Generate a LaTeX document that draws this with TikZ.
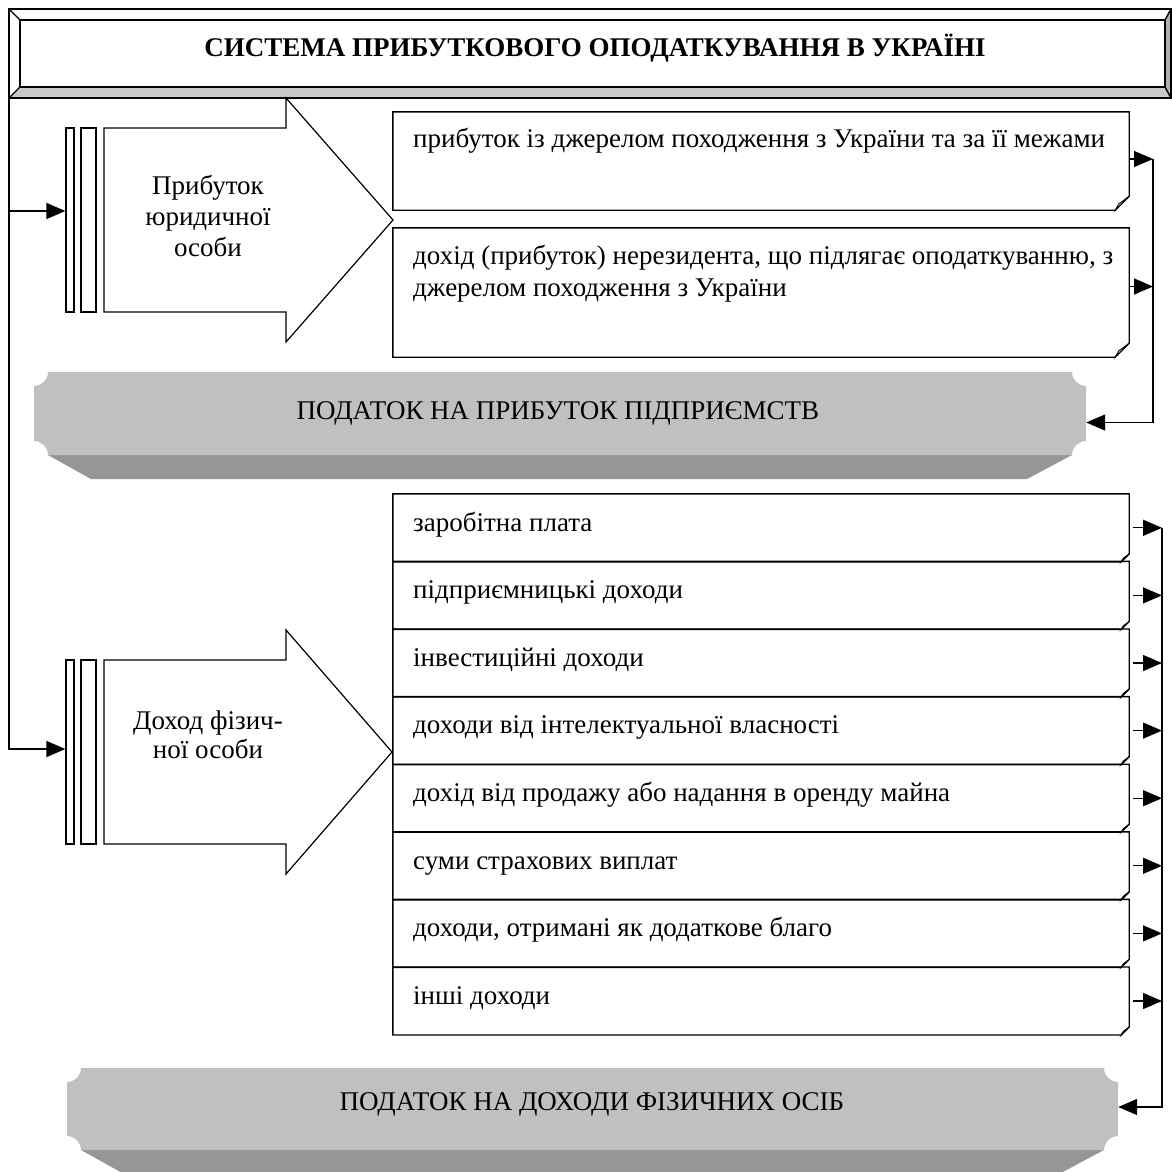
\documentclass[tikz,border=0pt]{standalone}
\usepackage{fontspec}
\setmainfont{Liberation Serif}
\usetikzlibrary{arrows.meta,calc}
\definecolor{facec}{HTML}{C0C0C0}
\definecolor{stripc}{HTML}{969696}
\definecolor{bevlow}{HTML}{C8C8C8}
\definecolor{bevright}{HTML}{B0B0B0}
\newcommand\foldbox[2]{%
  \draw[ln] (#1.north west) -- (#1.north east) -- ([yshift=#2pt]#1.south east)
    -- ([xshift=-#2pt]#1.south east) -- (#1.south west) -- cycle;
  \filldraw[ln, line width=0.8pt, fill=facec] ([yshift=#2pt]#1.south east) -- ([xshift=-#2pt]#1.south east)
    -- ([xshift=-0.75*#2pt, yshift=0.45*#2pt]#1.south east) -- cycle;}
\newcommand\bandface[5]{%
  \fill[stripc] ({#1+#5},#4) -- ({#3-#5},#4) -- ({#3-#5-45},{#4+24}) -- ({#1+#5+43},{#4+24}) -- cycle;
  \fill[facec] (#1,{#2+#5}) .. controls ({#1+0.55*#5},{#2+#5}) and ({#1+#5},{#2+0.55*#5}) .. ({#1+#5},#2)
   -- ({#3-#5},#2) .. controls ({#3-#5},{#2+0.55*#5}) and ({#3-0.55*#5},{#2+#5}) .. (#3,{#2+#5})
   -- (#3,{#4-#5}) .. controls ({#3-0.55*#5},{#4-#5}) and ({#3-#5},{#4-0.55*#5}) .. ({#3-#5},#4)
   -- ({#1+#5},#4) .. controls ({#1+#5},{#4-0.55*#5}) and ({#1+0.55*#5},{#4-#5}) .. (#1,{#4-#5}) -- cycle;}
\begin{document}
\begin{tikzpicture}[x=1pt,y=-1pt,
  ln/.style={line width=1.4pt, line join=miter},
  arr/.style={line width=1.3pt, -{Triangle[length=19pt,width=16pt]}},
  txt/.style={font=\fontsize{27}{32}\selectfont, inner sep=0pt, anchor=base west},
  boxn/.style={rectangle, inner sep=0pt, minimum width=736pt},
  barn/.style={rectangle, draw, line width=1.2pt, inner sep=0pt, minimum height=184pt}]
\useasboundingbox (0,0) rectangle (1172,1171);
\fill[white] (0,0) rectangle (1172,1171);

% title frame
\fill[bevlow] (9,98) -- (20,87) -- (1165,87) -- (1171,98) -- cycle;
\fill[bevright] (1165,20) -- (1171,9) -- (1171,98) -- (1165,87) -- cycle;
\draw[ln] (9,9) rectangle (1171,98);
\draw[ln] (20,20) rectangle (1165,87);
\draw[ln] (9,9) -- (20,20) (1171,9) -- (1165,20) (9,98) -- (20,87) (1171,98) -- (1165,87);
\node[font=\fontsize{27}{32}\selectfont\bfseries, anchor=base, inner sep=0pt] (title) at (595,56) {СИСТЕМА ПРИБУТКОВОГО ОПОДАТКУВАННЯ В УКРАЇНІ};
\coordinate (ltop) at (9,98);

% big arrow 1
\draw[line width=1.2pt, line join=miter] (104,128) -- (286,128) -- (286,98) -- (393,220) -- (286,342) -- (286,312) -- (104,312) -- cycle;
\node[barn, minimum width=8pt] (b1a) at (70,220) {};
\node[barn, minimum width=15pt] (b1b) at (88.5,220) {};
\node[font=\fontsize{27}{31}\selectfont, align=center, inner sep=0pt] (a1t) at (208,216) {Прибуток\\юридичної\\особи};

% big arrow 2
\draw[line width=1.2pt, line join=miter] (104,660) -- (286,660) -- (286,630) -- (392,752) -- (286,874) -- (286,844) -- (104,844) -- cycle;
\node[barn, minimum width=8pt] (b2a) at (70,752) {};
\node[barn, minimum width=15pt] (b2b) at (88.5,752) {};
\node[font=\fontsize{27}{29}\selectfont, align=center, inner sep=0pt] (a2t) at (208,735) {Доход фізич-\\ної особи};

% left connectors
\draw[arr] (ltop) |- ([yshift=9pt]b1a.west);
\draw[arr] (ltop) |- ([yshift=3pt]b2a.west);

% group 1 boxes
\node[boxn, minimum height=98pt] (p1) at (761,161) {};
\node[boxn, minimum height=129pt] (p2) at (761,292.5) {};
\foldbox{p1}{14}
\foldbox{p2}{14}
\node[txt] (p1t) at (413,147) {прибуток із джерелом походження з України та за її межами};
\node[txt, align=left, anchor=north west] (p2t) at (413,245) {дохід (прибуток) нерезидента, що підлягає оподаткуванню, з\\джерелом походження з України};

% band 1
\bandface{34}{372}{1086}{455}{14}
\node[rectangle, inner sep=0pt, minimum width=1052pt, minimum height=83pt] (band1) at (560,413.5) {};
\node[font=\fontsize{27}{32}\selectfont, inner sep=0pt] (band1t) at (558,413) {ПОДАТОК НА ПРИБУТОК ПІДПРИЄМСТВ};

\coordinate (r1) at (1153,0);
\draw[arr] ([yshift=2pt]p1.east) -- ([yshift=2pt]p1.east -| r1);
\draw[arr] ([yshift=6pt]p2.east) -- ([yshift=6pt]p2.east -| r1);
\draw[arr] ([yshift=2pt]p1.east -| r1) |- ([yshift=-9pt]band1.east);

% group 2 boxes
\coordinate (r2) at (1162,0);
\foreach \i/\t in {1/заробітна плата, 2/підприємницькі доходи, 3/інвестиційні доходи, 4/доходи від інтелектуальної власності, 5/дохід від продажу або надання в оренду майна, 6/суми страхових виплат, 7/{доходи, отримані як додаткове благо}, 8/інші доходи}{
  \node[boxn, minimum height=67.6pt] (q\i) at (761,{527.8+67.6*(\i-1)}) {};
  \foldbox{q\i}{8}
  \node[txt] (q\i t) at (413,{531+67.6*(\i-1)}) {\t};
  \draw[arr] ([xshift=4pt]q\i.east) -- (q\i.east -| r2);
}

% band 2
\bandface{67}{1068}{1118}{1150}{14}
\node[rectangle, inner sep=0pt, minimum width=1051pt, minimum height=82pt] (band2) at (592.5,1109) {};
\node[font=\fontsize{27}{32}\selectfont, inner sep=0pt] (band2t) at (592,1104) {ПОДАТОК НА ДОХОДИ ФІЗИЧНИХ ОСІБ};
\draw[arr] (q1.east -| r2) |- ([yshift=2pt]band2.east);
\end{tikzpicture}
\end{document}
